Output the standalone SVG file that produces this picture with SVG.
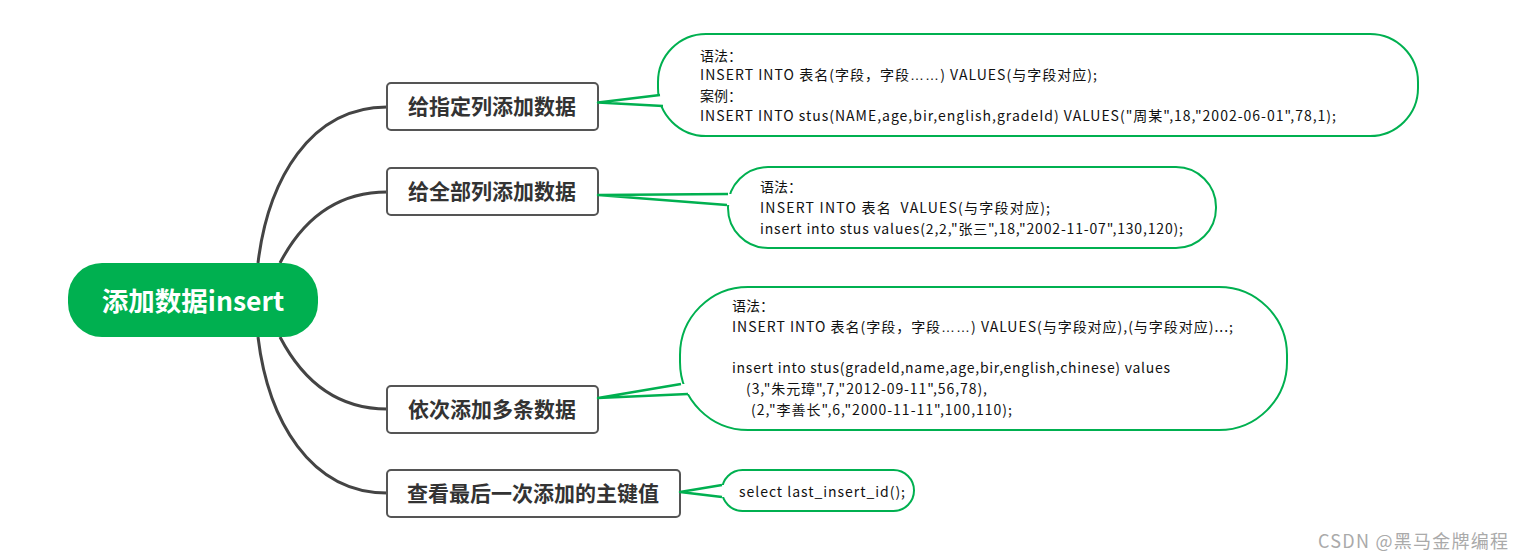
<svg xmlns="http://www.w3.org/2000/svg" width="1524" height="560" viewBox="0 0 1524 560">
<style>
.node rect{fill:#fff;stroke:#555;stroke-width:2}
.ntext{font-family:"Noto Sans CJK SC","Microsoft YaHei",sans-serif;font-weight:bold;font-size:21px;fill:#333}
.root{fill:#00b050}
.rtext{font-family:"Noto Sans CJK SC","Microsoft YaHei",sans-serif;font-weight:bold;font-size:26.5px;fill:#fff}
.conn{fill:none;stroke:#444;stroke-width:3}
.call{fill:#fff;stroke:#00b050;stroke-width:2}
.cover{fill:#fff;stroke:none}
.wedge{fill:none;stroke:#00b050;stroke-width:2.5;stroke-linejoin:round}
.ctext{font-family:"Noto Sans CJK SC","Microsoft YaHei",sans-serif;font-size:14px;fill:#111}
.ell{font-family:"Liberation Sans",sans-serif}
.wm{font-family:"Noto Sans CJK SC",sans-serif;font-size:18px;fill:#aaa}
</style>
<rect width="1524" height="560" fill="#fff"/>
<g id="connectors">
<path class="conn" d="M258,263 C268,180 310,107 387,107"/>
<path class="conn" d="M280,263 C305,215 340,192 387,192"/>
<path class="conn" d="M280,337 C305,385 340,409 387,409"/>
<path class="conn" d="M258,337 C268,420 310,493 387,493"/>
</g>
<g id="root">
<rect class="root" x="68" y="263" width="250" height="74" rx="34"/>
<text class="rtext" x="193" y="311" text-anchor="middle">添加数据insert</text>
</g>
<g id="node1" class="node">
<rect x="387" y="83" width="211" height="47" rx="4"/>
<text class="ntext" x="492" y="114" text-anchor="middle">给指定列添加数据</text>
</g>
<g id="node2" class="node">
<rect x="387" y="168" width="211" height="47" rx="4"/>
<text class="ntext" x="492" y="199" text-anchor="middle">给全部列添加数据</text>
</g>
<g id="node3" class="node">
<rect x="387" y="386" width="211" height="47" rx="4"/>
<text class="ntext" x="492" y="417" text-anchor="middle">依次添加多条数据</text>
</g>
<g id="node4" class="node">
<rect x="387" y="470" width="293" height="47" rx="4"/>
<text class="ntext" x="533" y="501" text-anchor="middle">查看最后一次添加的主键值</text>
</g>
<g id="callout1">
<rect class="call" x="658" y="34" width="760" height="102" rx="48"/>
<polygon class="cover" points="598,103 660,95 668,95 668,106 663,106"/>
<polyline class="wedge" points="660,95 598,102.5 663,106"/>
<text class="ctext" x="700" y="61">语法：</text>
<text class="ctext" x="700" y="80" textLength="397">INSERT INTO 表名(字段，字段<tspan class="ell">……</tspan>) VALUES(与字段对应);</text>
<text class="ctext" x="700" y="101">案例：</text>
<text class="ctext" x="700" y="121" textLength="636">INSERT INTO stus(NAME,age,bir,english,gradeId) VALUES("周某",18,"2002-06-01",78,1);</text>
</g>
<g id="callout2">
<rect class="call" x="728" y="167" width="488" height="81" rx="40"/>
<polygon class="cover" points="598,195 728,194 736,194 736,205 727,205"/>
<polyline class="wedge" points="728,194 598,195 727,205"/>
<text class="ctext" x="760" y="192">语法：</text>
<text class="ctext" x="760" y="213" textLength="290">INSERT INTO 表名&#160; VALUES(与字段对应);</text>
<text class="ctext" x="760" y="234" textLength="423">insert into stus values(2,2,"张三",18,"2002-11-07",130,120);</text>
</g>
<g id="callout3">
<rect class="call" x="680" y="287" width="607" height="143" rx="68"/>
<polygon class="cover" points="598,398 681,384 690,384 690,394 688,394"/>
<polyline class="wedge" points="681,384 598,398 688,394"/>
<text class="ctext" x="732" y="311">语法：</text>
<text class="ctext" x="732" y="332" textLength="501">INSERT INTO 表名(字段，字段<tspan class="ell">……</tspan>) VALUES(与字段对应),(与字段对应)...;</text>
<text class="ctext" x="732" y="373" textLength="438">insert into stus(gradeId,name,age,bir,english,chinese) values</text>
<text class="ctext" x="746" y="394" textLength="241">(3,"朱元璋",7,"2012-09-11",56,78),</text>
<text class="ctext" x="751" y="415" textLength="261">(2,"李善长",6,"2000-11-11",100,110);</text>
</g>
<g id="callout4">
<rect class="call" x="722" y="470" width="192" height="41" rx="20.5"/>
<polygon class="cover" points="680,492 722,485 728,485 728,497 722,497"/>
<polyline class="wedge" points="722,485 680,492 722,497"/>
<text class="ctext" x="739" y="497" textLength="166">select last_insert_id();</text>
</g>
<text class="wm" x="1318" y="548" textLength="190">CSDN @黑马金牌编程</text>
</svg>
